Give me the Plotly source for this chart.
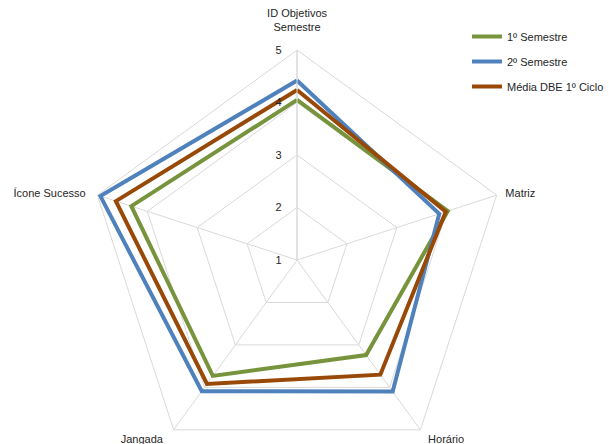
import plotly.graph_objects as go

NB = "\u00a0"
categories = ["ID Objetivos<br>Semestre<br> ", NB * 2 + "Matriz", NB * 2 + "Horário",
              "Jangada" + NB * 3, "Ícone Sucesso" + NB * 3]
series_names = ["1º Semestre", "2º Semestre", "Média DBE 1º Ciclo"]
sem1 = [4.05, 4.02, 3.24, 3.73, 4.32]
sem2 = [4.42, 3.85, 4.10, 4.09, 4.94]
media = [4.24, 3.98, 3.70, 3.92, 4.63]
colors = ["#77933C", "#4F81BD", "#984807"]
radial_ticks = [1, 2, 3, 4, 5]

W, H = 609, 480
cx, cy, R = 300, 260, 212

fig = go.Figure()
for i, (name, vals) in enumerate(zip(series_names, [sem1, sem2, media])):
    fig.add_trace(go.Scatterpolar(
        r=vals + vals[:1], theta=categories + categories[:1],
        mode="lines", name=name, line=dict(color=colors[i], width=4),
        legendgroup=f"g{i}",
    ))

fig.update_layout(
    width=W, height=H,
    margin=dict(l=0, r=0, t=0, b=0),
    paper_bgcolor="white",
    font=dict(family="Liberation Sans, Arial, sans-serif", size=11, color="#262626"),
    polar=dict(
        domain=dict(x=[(cx - R) / W, (cx + R) / W], y=[(H - cy - R) / H, (H - cy + R) / H]),
        gridshape="linear",
        bgcolor="white",
        radialaxis=dict(range=[1, 5], tickvals=radial_ticks, angle=90, tickangle=90,
                        showline=True, linecolor="#d9d9d9", gridcolor="#d9d9d9",
                        ticks="outside", ticklen=11, tickcolor="rgba(0,0,0,0)",
                        tickfont=dict(size=11, color="#262626"), side="counterclockwise"),
        angularaxis=dict(rotation=90, direction="clockwise", gridcolor="#d9d9d9",
                         linecolor="#d9d9d9", showline=True, ticks="",
                         tickfont=dict(size=11, color="#262626")),
    ),
    legend=dict(x=472 / W, y=1 - 22 / H, xanchor="left", yanchor="top",
                tracegroupgap=6, font=dict(size=11, color="#262626"),
                bgcolor="rgba(0,0,0,0)"),
)

fig.write_html("out.html", config={"displayModeBar": False},
               post_script="document.body.style.margin='0';document.body.style.overflow='hidden';document.documentElement.style.overflow='hidden';")
